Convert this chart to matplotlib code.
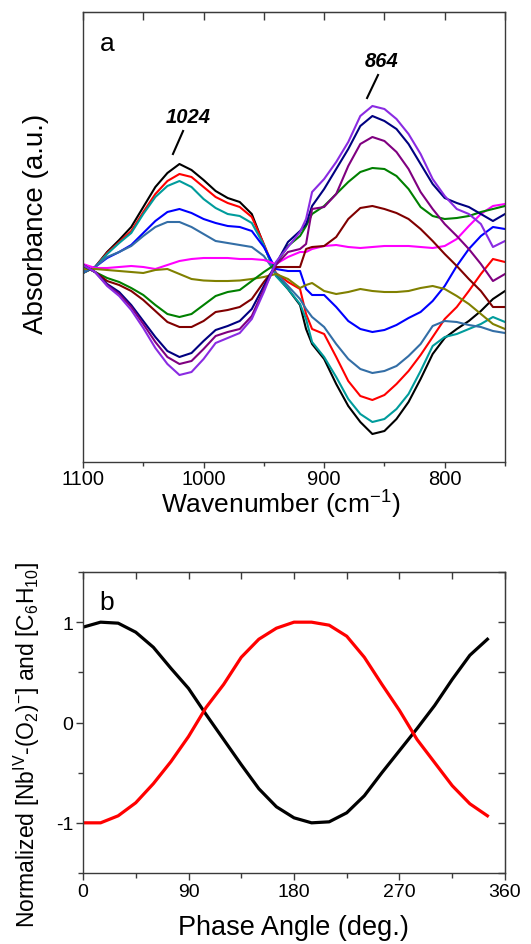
import matplotlib
matplotlib.use("Agg")
import matplotlib.pyplot as plt
from matplotlib.ticker import MultipleLocator

plt.rcParams["font.family"] = ["Liberation Sans", "DejaVu Sans"]
plt.rcParams["mathtext.fontset"] = "custom"
plt.rcParams["mathtext.rm"] = "Liberation Sans"
plt.rcParams["mathtext.it"] = "Liberation Sans:italic"
plt.rcParams["mathtext.bf"] = "Liberation Sans:bold"
plt.rcParams["axes.unicode_minus"] = False

# ---- panel a: phase-resolved spectra (arbitrary units) ----
wavenumber = [1100, 1090, 1080, 1070, 1060, 1050, 1040, 1030, 1020, 1010,
              1000, 990, 980, 970, 960, 950, 940, 930, 920, 915, 910, 900,
              890, 880, 870, 860, 850, 840, 830, 820, 810, 800, 790, 780,
              770, 760, 750]

black = [-0.04, 0.02, 0.17, 0.29, 0.42, 0.62, 0.82, 0.96, 1.05, 0.99, 0.89, 0.78, 0.71, 0.67, 0.55, 0.24,
         -0.06, -0.20, -0.36, -0.60, -0.75, -0.90, -1.15, -1.37, -1.53, -1.65, -1.62, -1.50, -1.33,
         -1.10, -0.85, -0.69, -0.60, -0.52, -0.42, -0.30, -0.22]
red = [-0.04, 0.02, 0.16, 0.27, 0.38, 0.57, 0.75, 0.88, 0.95, 0.92, 0.82, 0.72, 0.66, 0.62, 0.52, 0.25,
       -0.04, -0.13, -0.20, -0.45, -0.60, -0.65, -0.88, -1.12, -1.27, -1.31, -1.26, -1.15, -1.02,
       -0.86, -0.68, -0.50, -0.38, -0.22, -0.05, 0.10, 0.07]
teal = [-0.04, 0.02, 0.15, 0.26, 0.36, 0.55, 0.72, 0.83, 0.88, 0.82, 0.70, 0.61, 0.55, 0.53, 0.46, 0.24,
        -0.07, -0.20, -0.35, -0.50, -0.73, -0.88, -1.08, -1.30, -1.45, -1.53, -1.50, -1.40, -1.25,
        -1.02, -0.77, -0.68, -0.65, -0.60, -0.55, -0.48, -0.53]
blue = [-0.03, 0.02, 0.11, 0.17, 0.24, 0.36, 0.48, 0.57, 0.60, 0.56, 0.50, 0.46, 0.43, 0.42, 0.38, 0.22,
        0.00, -0.02, -0.02, -0.20, -0.26, -0.26, -0.38, -0.52, -0.60, -0.63, -0.61, -0.56, -0.49,
        -0.43, -0.32, -0.17, 0.03, 0.20, 0.33, 0.42, 0.40]
steelblue = [-0.03, 0.02, 0.12, 0.17, 0.23, 0.33, 0.42, 0.47, 0.47, 0.42, 0.35, 0.28, 0.26, 0.24, 0.22, 0.13,
             -0.04, -0.17, -0.30, -0.40, -0.48, -0.58, -0.75, -0.90, -1.00, -1.04, -1.02, -0.97, -0.87,
             -0.75, -0.57, -0.52, -0.53, -0.56, -0.58, -0.62, -0.64]
magenta = [0.05, 0.01, 0.01, 0.02, 0.03, 0.02, 0.00, 0.04, 0.08, 0.10, 0.11, 0.11, 0.11, 0.10, 0.10, 0.09,
           0.05, 0.12, 0.17, 0.17, 0.20, 0.23, 0.24, 0.22, 0.21, 0.22, 0.23, 0.23, 0.23,
           0.22, 0.21, 0.23, 0.30, 0.43, 0.55, 0.63, 0.65]
olive = [0.00, 0.00, -0.01, -0.02, -0.03, -0.04, -0.01, 0.00, -0.05, -0.10, -0.115, -0.12, -0.12, -0.115, -0.10, -0.08,
         -0.05, -0.10, -0.19, -0.16, -0.14, -0.22, -0.25, -0.23, -0.20, -0.22, -0.23, -0.23, -0.22,
         -0.19, -0.17, -0.20, -0.27, -0.35, -0.45, -0.55, -0.60]
green = [0.03, -0.03, -0.09, -0.13, -0.19, -0.26, -0.36, -0.45, -0.48, -0.45, -0.36, -0.27, -0.23, -0.21, -0.12, -0.03,
         0.05, 0.23, 0.33, 0.43, 0.55, 0.63, 0.75, 0.87, 0.97, 1.01, 1.00, 0.93, 0.80,
         0.62, 0.53, 0.50, 0.51, 0.53, 0.57, 0.60, 0.63]
maroon = [0.04, -0.03, -0.12, -0.16, -0.22, -0.31, -0.42, -0.53, -0.58, -0.58, -0.52, -0.43, -0.41, -0.38, -0.30, -0.13,
          0.02, 0.02, 0.02, 0.20, 0.22, 0.23, 0.32, 0.50, 0.61, 0.63, 0.60, 0.56, 0.50,
          0.40, 0.28, 0.15, 0.03, -0.10, -0.22, -0.38, -0.38]
navy = [0.04, -0.03, -0.15, -0.23, -0.36, -0.52, -0.68, -0.82, -0.88, -0.84, -0.72, -0.61, -0.57, -0.52, -0.40, -0.17,
        0.05, 0.27, 0.38, 0.45, 0.63, 0.80, 1.00, 1.20, 1.43, 1.53, 1.48, 1.40, 1.25,
        1.05, 0.85, 0.71, 0.66, 0.62, 0.55, 0.48, 0.55]
purple = [0.04, -0.03, -0.16, -0.25, -0.38, -0.55, -0.73, -0.88, -0.95, -0.92, -0.80, -0.67, -0.63, -0.60, -0.47, -0.20,
          0.04, 0.17, 0.20, 0.25, 0.60, 0.62, 0.75, 1.03, 1.25, 1.32, 1.28, 1.17, 1.00,
          0.77, 0.60, 0.45, 0.33, 0.20, 0.05, -0.12, -0.05]
violet = [0.04, -0.03, -0.17, -0.27, -0.41, -0.59, -0.79, -0.95, -1.06, -1.03, -0.90, -0.74, -0.69, -0.64, -0.50, -0.23,
          0.07, 0.22, 0.37, 0.50, 0.77, 0.90, 1.07, 1.27, 1.53, 1.63, 1.60, 1.50, 1.35,
          1.15, 0.90, 0.73, 0.60, 0.55, 0.45, 0.22, 0.28]

spectra = [
    (black, "#000000"), (red, "#ff0000"), (teal, "#009c9c"), (blue, "#0000ff"),
    (steelblue, "#336ea6"), (magenta, "#ff00ff"), (olive, "#808000"), (green, "#008000"),
    (maroon, "#800000"), (navy, "#000080"), (purple, "#800080"), (violet, "#8a2be2"),
]

# ---- panel b: normalized concentrations vs phase angle ----
phase = [0, 15, 30, 45, 60, 75, 90, 105, 120, 135, 150, 165, 180, 195,
         210, 225, 240, 255, 270, 285, 300, 315, 330, 345]
nb_peroxo = [0.95, 1.00, 0.99, 0.90, 0.75, 0.54, 0.34, 0.08, -0.17, -0.42, -0.66, -0.84,
             -0.95, -1.00, -0.99, -0.90, -0.73, -0.50, -0.28, -0.06, 0.17, 0.43, 0.67, 0.83]
cyclohexene = [-1.00, -1.00, -0.93, -0.80, -0.61, -0.39, -0.14, 0.15, 0.38, 0.65, 0.83, 0.94,
               1.00, 1.00, 0.97, 0.86, 0.65, 0.38, 0.12, -0.17, -0.40, -0.63, -0.81, -0.93]

W, H = 531, 945
fig = plt.figure(figsize=(W / 100, H / 100), dpi=100)
spine_col = "#3a3a3a"

# panel a
ax1 = fig.add_axes([83 / W, 1 - 463 / H, 422 / W, 450 / H])
for ys, c in spectra:
    ax1.plot(wavenumber, ys, color=c, lw=1.5, solid_joinstyle="round")
ax1.set_xlim(1100, 750)
ax1.set_ylim(-1.93, 2.57)
ax1.xaxis.set_major_locator(MultipleLocator(100))
ax1.xaxis.set_minor_locator(MultipleLocator(50))
ax1.set_yticks([])
ax1.tick_params(axis="x", which="major", direction="out", length=4.5, width=1,
                color=spine_col, labelsize=14.5, pad=0.5)
ax1.tick_params(axis="x", which="minor", direction="out", length=3, width=1, color=spine_col)
top1 = ax1.secondary_xaxis("top")
top1.xaxis.set_major_locator(MultipleLocator(50))
top1.tick_params(direction="in", length=6, width=1, color=spine_col, labeltop=False)
top1.spines["top"].set_color(spine_col)
for s in ax1.spines.values():
    s.set_color(spine_col)
    s.set_linewidth(1.0)

ax1.text(0.057, 0.93, "a", transform=ax1.transAxes, fontsize=19, ha="center", va="center")
ax1.text(1013, 1.52, "1024", fontsize=14.5, fontweight="bold", fontstyle="italic",
         ha="center", va="center")
ax1.plot([1025.4, 1017], [1.15, 1.38], color="black", lw=1.5)
ax1.text(852, 2.08, "864", fontsize=14.5, fontweight="bold", fontstyle="italic",
         ha="center", va="center")
ax1.plot([864.4, 855.3], [1.71, 1.94], color="black", lw=1.5)

fig.text(36 / W, 1 - 224 / H, "Absorbance (a.u.)", rotation=90, fontsize=20,
         ha="center", va="center")
fig.text(281 / W, 1 - 505 / H, "Wavenumber (cm$^{-1}$)", fontsize=19,
         ha="center", va="center")

# panel b
ax2 = fig.add_axes([83 / W, 1 - 874 / H, 422 / W, 301 / H])
ax2.plot(phase, nb_peroxo, color="black", lw=2.3)
ax2.plot(phase, cyclohexene, color="#ff0000", lw=2.3)
ax2.set_xlim(0, 360)
ax2.set_ylim(-1.5, 1.5)
ax2.xaxis.set_major_locator(MultipleLocator(90))
ax2.xaxis.set_minor_locator(MultipleLocator(45))
ax2.yaxis.set_major_locator(MultipleLocator(1))
ax2.yaxis.set_minor_locator(MultipleLocator(0.5))
ax2.tick_params(which="major", direction="out", length=5, width=1, color=spine_col,
                labelsize=14, pad=2)
ax2.tick_params(which="minor", direction="out", length=3.5, width=1, color=spine_col)
top2 = ax2.secondary_xaxis("top")
top2.xaxis.set_major_locator(MultipleLocator(45))
top2.tick_params(direction="in", length=5, width=1, color=spine_col, labeltop=False)
top2.spines["top"].set_color(spine_col)
right2 = ax2.secondary_yaxis("right")
right2.yaxis.set_major_locator(MultipleLocator(0.5))
right2.tick_params(direction="in", length=5, width=1, color=spine_col, labelright=False)
right2.spines["right"].set_color(spine_col)
for s in ax2.spines.values():
    s.set_color(spine_col)
    s.set_linewidth(1.0)

ax2.text(0.057, 0.90, "b", transform=ax2.transAxes, fontsize=19, ha="center", va="center")
fig.text(293 / W, 1 - 928 / H, "Phase Angle (deg.)", fontsize=19.5, ha="center", va="center")
fig.text(27 / W, 1 - 745 / H,
         r"Normalized [Nb$^{\mathrm{IV}}$-(O$_2$)$^{-}$] and [C$_6$H$_{10}$]",
         rotation=90, fontsize=16.5, ha="center", va="center")

fig.savefig("out.png", dpi=100)
